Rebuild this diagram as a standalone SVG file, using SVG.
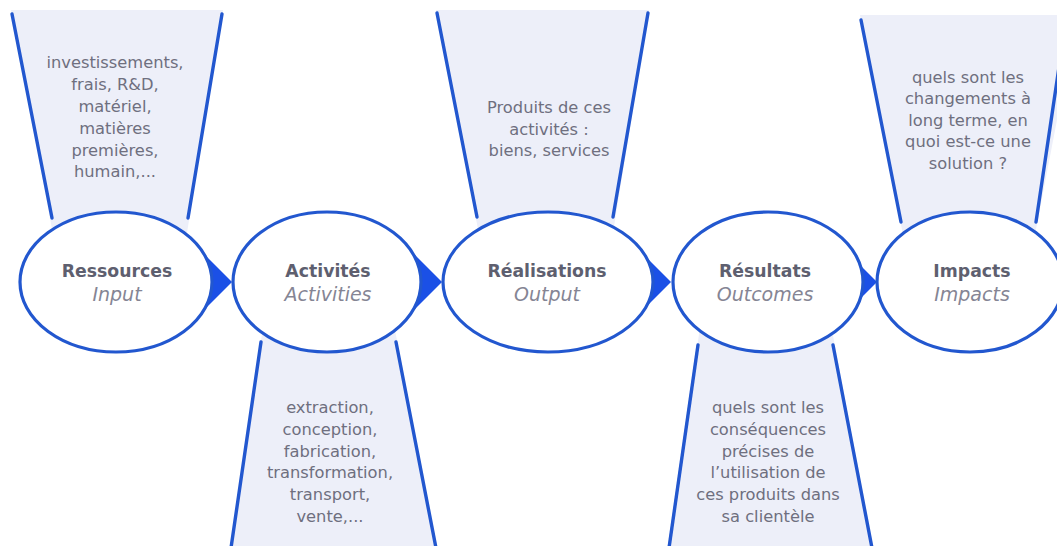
<svg xmlns="http://www.w3.org/2000/svg" width="1057" height="546" viewBox="0 0 1057 546">
<style>
.fill{fill:#edeff9;stroke:none}
.fl{stroke:#2257cf;stroke-width:3.4;fill:none;stroke-linecap:round}
.ell{fill:#ffffff;stroke:#2257cf;stroke-width:3.2}
.arr{fill:#1b50e6;stroke:none}
.t{font-family:"DejaVu Sans","Liberation Sans",sans-serif;font-size:16.3px;fill:#6f6f7f;text-anchor:middle}
.h{font-family:"DejaVu Sans","Liberation Sans",sans-serif;font-size:17.3px;font-weight:bold;fill:#5e5f6f;text-anchor:middle}
.i{font-family:"DejaVu Sans","Liberation Sans",sans-serif;font-size:19px;font-style:italic;fill:#858594;text-anchor:middle}
</style>
<rect width="1057" height="546" fill="#ffffff"/>
<g id="funnels">
<g id="f-ressources">
<polygon class="fill" points="11,10 223,10 185,245 55,245"/>
<line class="fl" x1="12" y1="14" x2="52" y2="218"/>
<line class="fl" x1="222" y1="14" x2="188" y2="218"/>
</g>
<g id="f-realisations">
<polygon class="fill" points="436,10 649,10 611,245 481,245"/>
<line class="fl" x1="437" y1="13" x2="477" y2="217"/>
<line class="fl" x1="648" y1="13" x2="613" y2="217"/>
</g>
<g id="f-impacts">
<polygon class="fill" points="860,15 1057,15 1057,120 1033,245 905,245"/>
<line class="fl" x1="861" y1="20" x2="901" y2="222"/>
<line class="fl" x1="1066" y1="20" x2="1036" y2="222"/>
</g>
<g id="f-activites">
<polygon class="fill" points="264,320 393,320 437,546 231,546"/>
<line class="fl" x1="261" y1="342" x2="231" y2="548"/>
<line class="fl" x1="396" y1="342" x2="436" y2="548"/>
</g>
<g id="f-resultats">
<polygon class="fill" points="701,320 830,320 873,546 669,546"/>
<line class="fl" x1="698" y1="345" x2="669" y2="548"/>
<line class="fl" x1="833" y1="345" x2="872" y2="548"/>
</g>
</g>
<g id="connectors">
<polygon class="arr" points="196,246 196,318 232,282"/>
<polygon class="arr" points="406,246 406,318 442,282"/>
<polygon class="arr" points="635,246 635,318 671,282"/>
<polygon class="arr" points="841,246 841,318 877,282"/>
</g>
<g id="n-ressources">
<ellipse class="ell" cx="116" cy="282" rx="96" ry="70"/>
<text class="h" x="117" y="277">Ressources</text>
<text class="i" x="117" y="301">Input</text>
</g>
<g id="n-activites">
<ellipse class="ell" cx="327" cy="282" rx="94" ry="70"/>
<text class="h" x="328" y="277">Activités</text>
<text class="i" x="328" y="301">Activities</text>
</g>
<g id="n-realisations">
<ellipse class="ell" cx="548" cy="282" rx="105" ry="70"/>
<text class="h" x="547" y="277">Réalisations</text>
<text class="i" x="547" y="301">Output</text>
</g>
<g id="n-resultats">
<ellipse class="ell" cx="768" cy="282" rx="95" ry="70"/>
<text class="h" x="765" y="277">Résultats</text>
<text class="i" x="765" y="301">Outcomes</text>
</g>
<g id="n-impacts">
<ellipse class="ell" cx="970" cy="282" rx="93" ry="70"/>
<text class="h" x="972" y="277">Impacts</text>
<text class="i" x="972" y="301">Impacts</text>
</g>
<g id="texts">
<text class="t" x="115" y="68">investissements,</text>
<text class="t" x="115" y="90">frais, R&amp;D,</text>
<text class="t" x="115" y="112">matériel,</text>
<text class="t" x="115" y="134">matières</text>
<text class="t" x="115" y="156">premières,</text>
<text class="t" x="115" y="177">humain,...</text>
<text class="t" x="549" y="113">Produits de ces</text>
<text class="t" x="549" y="135">activités :</text>
<text class="t" x="549" y="156">biens, services</text>
<text class="t" x="968" y="83">quels sont les</text>
<text class="t" x="968" y="104">changements à</text>
<text class="t" x="968" y="126">long terme, en</text>
<text class="t" x="968" y="147">quoi est-ce une</text>
<text class="t" x="968" y="169">solution ?</text>
<text class="t" x="330" y="413">extraction,</text>
<text class="t" x="330" y="435">conception,</text>
<text class="t" x="330" y="457">fabrication,</text>
<text class="t" x="330" y="478">transformation,</text>
<text class="t" x="330" y="500">transport,</text>
<text class="t" x="330" y="522">vente,...</text>
<text class="t" x="768" y="413">quels sont les</text>
<text class="t" x="768" y="435">conséquences</text>
<text class="t" x="768" y="457">précises de</text>
<text class="t" x="768" y="478">l’utilisation de</text>
<text class="t" x="768" y="500">ces produits dans</text>
<text class="t" x="768" y="522">sa clientèle</text>
</g>
</svg>
